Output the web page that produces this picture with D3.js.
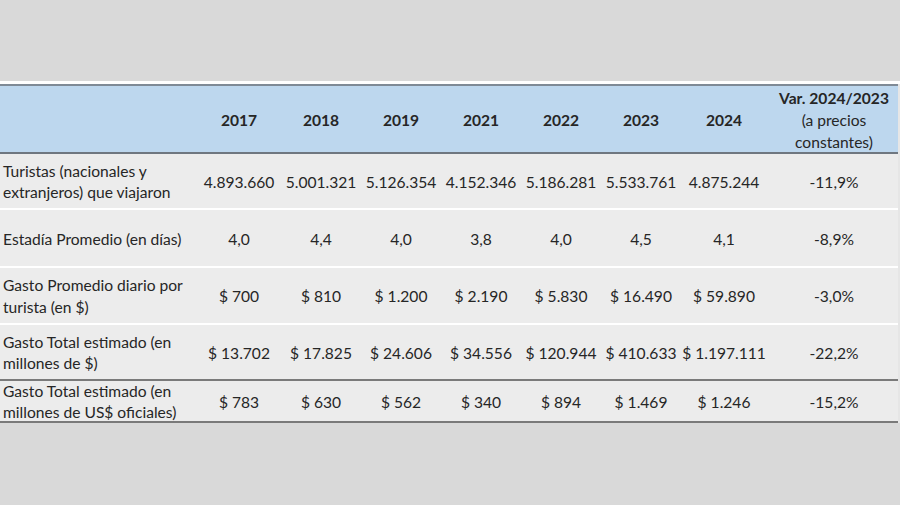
<!DOCTYPE html>
<html><head><meta charset="utf-8">
<script src="https://cdn.jsdelivr.net/npm/d3@7"></script>
<style>html,body{margin:0;padding:0;background:#d9d9d9;}svg{display:block;}</style>
</head><body>
<svg id="c" width="900" height="505"></svg>
<script>
const years = ["2017","2018","2019","2021","2022","2023","2024"];
const varHeader = ["Var. 2024/2023","(a precios","constantes)"];
const rowLabels = [
  ["Turistas (nacionales y","extranjeros) que viajaron"],
  ["Estadía Promedio (en días)"],
  ["Gasto Promedio diario por","turista (en $)"],
  ["Gasto Total estimado (en","millones de $)"],
  ["Gasto Total estimado (en","millones de US$ oficiales)"]
];
const turistas = ["4.893.660","5.001.321","5.126.354","4.152.346","5.186.281","5.533.761","4.875.244"];
const estadia = ["4,0","4,4","4,0","3,8","4,0","4,5","4,1"];
const gastoDiario = ["$ 700","$ 810","$ 1.200","$ 2.190","$ 5.830","$ 16.490","$ 59.890"];
const gastoTotalPesos = ["$ 13.702","$ 17.825","$ 24.606","$ 34.556","$ 120.944","$ 410.633","$ 1.197.111"];
const gastoTotalUSD = ["$ 783","$ 630","$ 562","$ 340","$ 894","$ 1.469","$ 1.246"];
const variacion = ["-11,9%","-8,9%","-3,0%","-22,2%","-15,2%"];

const rows = [turistas, estadia, gastoDiario, gastoTotalPesos, gastoTotalUSD];

const svg = d3.select("#c");
const font = "Lato, 'Open Sans', sans-serif";
const textColor = "#262626";
const fs = 15.6;

const colCenters = [239,321,401,481,561,641,724];
const x = d3.scaleOrdinal().domain(years).range(colCenters);
const varX = 834;

const left = 0, right = 898;
svg.append("rect").attr("x",0).attr("y",81).attr("width",900).attr("height",345).attr("fill","#ffffff");
svg.append("rect").attr("x",left).attr("y",84).attr("width",right-left).attr("height",69).attr("fill","#bdd7ee");
svg.append("rect").attr("x",left).attr("y",84).attr("width",right-left).attr("height",2).attr("fill","#7f8a96");
svg.append("rect").attr("x",left).attr("y",152).attr("width",right-left).attr("height",2).attr("fill","#6f7780");

const rowTops = [154,210,268,325,381];
const rowBottoms = [208,266,323,379,421];
const rowG = svg.append("g");
rows.forEach((r,i)=>{
  rowG.append("rect").attr("x",left).attr("y",rowTops[i]).attr("width",right-left)
    .attr("height",rowBottoms[i]-rowTops[i]).attr("fill","#ececec");
});
svg.append("rect").attr("x",left).attr("y",379).attr("width",right-left).attr("height",2).attr("fill","#7a7a7a");
svg.append("rect").attr("x",left).attr("y",421).attr("width",right-left).attr("height",2).attr("fill","#7a7a7a");
svg.append("rect").attr("x",0).attr("y",423).attr("width",900).attr("height",82).attr("fill","#d9d9d9");
svg.append("rect").attr("x",right).attr("y",84).attr("width",2).attr("height",339).attr("fill","#e6e6e6");

svg.append("g").selectAll("text").data(years).join("text")
  .attr("x",d=>x(d)).attr("y",126).attr("text-anchor","middle")
  .attr("font-family",font).attr("font-size",fs).attr("font-weight","bold")
  .attr("fill",textColor).text(d=>d);
svg.append("g").selectAll("text").data(varHeader).join("text")
  .attr("x",varX).attr("y",(d,i)=>104+i*22).attr("text-anchor","middle")
  .attr("font-family",font).attr("font-size",fs).attr("font-weight",(d,i)=>i===0?"bold":"normal")
  .attr("fill",textColor).text(d=>d);

rows.forEach((r,i)=>{
  const mid = (rowTops[i]+rowBottoms[i])/2;
  const g = svg.append("g");
  const lines = rowLabels[i];
  g.selectAll("text.lab").data(lines).join("text").attr("class","lab")
    .attr("x",3).attr("y",(d,j)=>mid + 6.5 + (j-(lines.length-1)/2)*21.5)
    .attr("font-family",font).attr("font-size",fs).attr("fill",textColor).text(d=>d);
  g.selectAll("text.val").data(r).join("text").attr("class","val")
    .attr("x",(d,j)=>x(years[j])).attr("y",mid+6.5).attr("text-anchor","middle")
    .attr("font-family",font).attr("font-size",fs).attr("fill",textColor).text(d=>d);
  g.append("text").attr("x",varX).attr("y",mid+6.5).attr("text-anchor","middle")
    .attr("font-family",font).attr("font-size",fs).attr("fill",textColor).text(variacion[i]);
});
</script>
</body></html>
